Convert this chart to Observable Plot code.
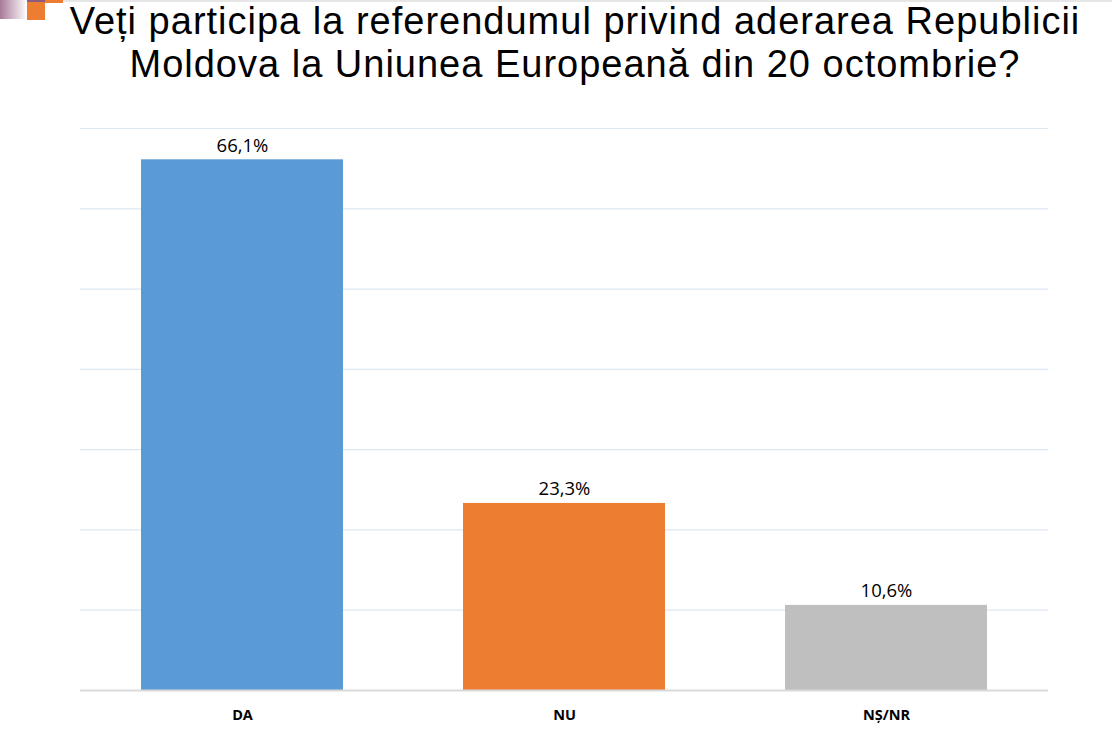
<!DOCTYPE html>
<html>
<head>
<meta charset="utf-8">
<script src="https://cdn.jsdelivr.net/npm/d3@7"></script>
<script src="https://cdn.jsdelivr.net/npm/@observablehq/plot@0.6"></script>
<style>
  html, body { margin: 0; padding: 0; background: #fff; }
  body { width: 1112px; height: 740px; position: relative; overflow: hidden; font-family: "Open Sans", sans-serif; }
  #deco1 { position: absolute; left: 0; top: 0; width: 27px; height: 19px; background: linear-gradient(to right, #a87a98, #ffffff); }
  #deco2 { position: absolute; left: 27px; top: 0; width: 18px; height: 20px; background: #ed7d31; }
  #deco3 { position: absolute; left: 27px; top: 0; width: 18px; height: 2px; background: #8e5a7e; }
  #deco4 { position: absolute; left: 45px; top: 0; width: 18px; height: 3px; background: #ed7d31; }
  #deco5 { position: absolute; left: 63px; top: 0; width: 1049px; height: 2px; background: #e6e6e6; }
  #title { position: absolute; left: 37px; top: 0px; width: 1076px; text-align: center; font-family: "Liberation Sans", Arial, sans-serif; font-size: 38px; line-height: 43px; letter-spacing: 1px; color: #000; white-space: nowrap; }
  #title div { height: 43px; }
  #chart { position: absolute; left: 0; top: 100px; }
</style>
</head>
<body>
<div id="deco1"></div><div id="deco2"></div><div id="deco3"></div><div id="deco4"></div><div id="deco5"></div>
<div id="title"><div>Veți participa la referendumul privind aderarea Republicii</div><div>Moldova la Uniunea Europeană din 20 octombrie?</div></div>
<div id="chart"></div>
<script>
const categories = ["DA", "NU", "NȘ/NR"];
const values = [66.1, 23.3, 10.6];
const labels = ["66,1%", "23,3%", "10,6%"];
const colors = ["#5b9bd5", "#ed7d31", "#bfbfbf"];
const gridTicks = [10, 20, 30, 40, 50, 60, 70];

const data = categories.map((c, i) => ({ cat: c, value: values[i], label: labels[i] }));

const chart = Plot.plot({
  width: 1112,
  height: 640,
  marginTop: 28,
  marginBottom: 50,
  marginLeft: 80,
  marginRight: 64,
  style: { fontFamily: "Open Sans, sans-serif", background: "transparent" },
  x: { domain: categories, paddingInner: 0.373, paddingOuter: 0.185, label: null },
  y: { domain: [0, 70], axis: null },
  color: { domain: categories, range: colors },
  marks: [
    Plot.ruleY(gridTicks, { stroke: "#dce8f4", strokeWidth: 1.2 }),
    Plot.barY(data, { x: "cat", y: "value", fill: "cat" }),
    Plot.ruleY([0], { stroke: "#d9d9d9", strokeWidth: 2 }),
    Plot.text(data, { x: "cat", y: "value", text: "label", lineAnchor: "bottom", dy: -8, fontSize: 18.5, fill: "#000" }),
    Plot.axisX({ tickSize: 0, tickPadding: 19, fontSize: 14.5, fontWeight: "bold", fill: "#000" })
  ]
});
document.getElementById("chart").appendChild(chart);
</script>
</body>
</html>
